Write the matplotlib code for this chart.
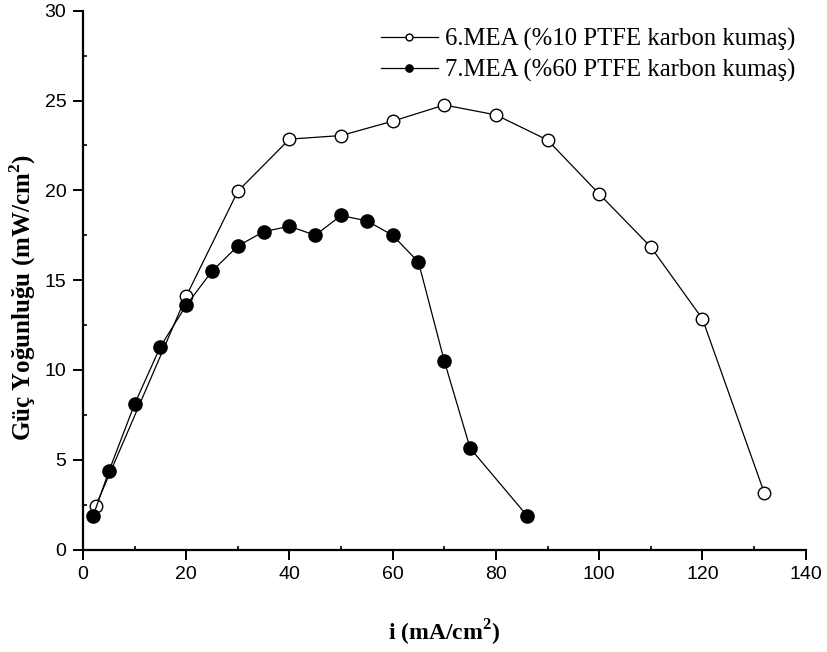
import matplotlib
matplotlib.use("Agg")
import matplotlib.pyplot as plt
from matplotlib.ticker import MultipleLocator

# Power density vs current density for two MEAs
i_mea6 = [2.5, 20, 30, 40, 50, 60, 70, 80, 90, 100, 110, 120, 132]
p_mea6 = [2.45, 14.1, 19.95, 22.85, 23.05, 23.85, 24.75, 24.2, 22.8, 19.8, 16.85, 12.85, 3.15]

i_mea7 = [2, 5, 10, 15, 20, 25, 30, 35, 40, 45, 50, 55, 60, 65, 70, 75, 86]
p_mea7 = [1.9, 4.35, 8.1, 11.3, 13.6, 15.5, 16.9, 17.7, 18.0, 17.5, 18.6, 18.3, 17.5, 16.0, 10.5, 5.65, 1.9]

labels = ["6.MEA (%10 PTFE karbon kumaş)", "7.MEA (%60 PTFE karbon kumaş)"]
x_label = "i (mA/cm$^\\mathregular{2}$)"
y_label = "Güç Yoğunluğu (mW/cm$^\\mathregular{2}$)"

fig = plt.figure(figsize=(8.28, 6.52), dpi=100)
ax = fig.add_axes([0.1002, 0.157, 0.8728, 0.8266])

ax.plot(i_mea6, p_mea6, color="black", lw=0.9, marker="o", ms=9,
        mfc="white", mec="black", mew=1.0, label=labels[0], zorder=3)
ax.plot(i_mea7, p_mea7, color="black", lw=0.9, marker="o", ms=9.5,
        mfc="black", mec="black", mew=1.0, label=labels[1], zorder=4)

ax.set_xlim(0, 140)
ax.set_ylim(0, 30)
ax.xaxis.set_major_locator(MultipleLocator(20))
ax.xaxis.set_minor_locator(MultipleLocator(10))
ax.yaxis.set_major_locator(MultipleLocator(5))
ax.yaxis.set_minor_locator(MultipleLocator(2.5))

for side in ("top", "right"):
    ax.spines[side].set_visible(False)
for side in ("left", "bottom"):
    ax.spines[side].set_linewidth(1.6)

ax.tick_params(which="major", direction="out", length=7.5, width=1.4,
               labelsize=14, pad=4.5)
ax.tick_params(which="minor", direction="in", length=3, width=1.2)
for lbl in ax.get_xticklabels() + ax.get_yticklabels():
    lbl.set_fontfamily("Liberation Sans")

ax.set_xlabel(x_label, fontfamily="Liberation Serif", fontweight="bold",
              fontsize=17, labelpad=25)
ax.set_ylabel(y_label, fontfamily="Liberation Serif", fontweight="bold",
              fontsize=18)
ax.yaxis.set_label_coords(-0.062, 0.467)

leg = ax.legend(loc="upper right", bbox_to_anchor=(1.01, 1.0), frameon=False,
                prop={"family": "Liberation Serif", "size": 17.8},
                markerscale=0.55, handlelength=2.3, handletextpad=0.3,
                labelspacing=0.3, borderaxespad=0.3)

fig.savefig("out.png", dpi=100)
